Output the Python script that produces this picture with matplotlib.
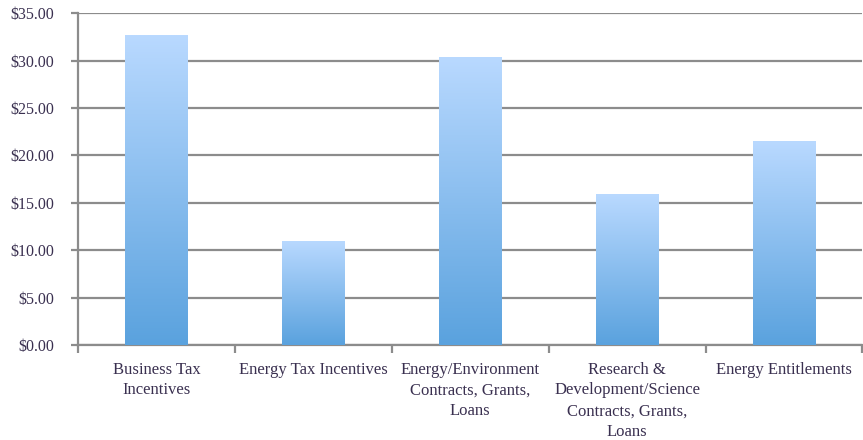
import matplotlib.pyplot as plt
import numpy as np
from matplotlib.colors import LinearSegmentedColormap
from matplotlib.ticker import FuncFormatter

categories = ['Business Tax\nIncentives', 'Energy Tax Incentives',
              'Energy/Environment\nContracts, Grants,\nLoans',
              'Research &\nDevelopment/Science\nContracts, Grants,\nLoans',
              'Energy Entitlements']
values = [32.7, 11.0, 30.4, 15.9, 21.5]
yticks = [0, 5, 10, 15, 20, 25, 30, 35]

plt.rcParams['font.family'] = ['Liberation Serif', 'DejaVu Serif']

fig = plt.figure(figsize=(8.63, 4.40), dpi=100)
ax = fig.add_axes([0.0904, 0.216, 0.909, 0.754])

x = np.arange(len(categories))
bars = ax.bar(x, values, width=0.4, color='none', zorder=3)

cmap = LinearSegmentedColormap.from_list('grad', ['#5aa2de', '#b9d9ff'])
grad = np.linspace(0, 1, 256).reshape(-1, 1)
for b in bars:
    im = ax.imshow(grad, cmap=cmap, origin='lower', aspect='auto',
                   extent=[b.get_x(), b.get_x() + b.get_width(), 0, b.get_height()],
                   zorder=3)
    im.set_clip_path(b)

ax.set_xlim(-0.5, len(categories) - 0.5)
ax.set_ylim(0, 35)
ax.set_yticks(yticks)
ax.yaxis.set_major_formatter(FuncFormatter(lambda v, p: '${:.2f}'.format(v)))
ax.grid(axis='y', color='#8c8c8c', linewidth=1.6, zorder=0)

ax.set_xticks(np.arange(len(categories) + 1) - 0.5, minor=False)
ax.set_xticklabels([])
ax.set_xticks(x, minor=True)
ax.set_xticklabels(categories, minor=True, fontsize=12, color='#3a3050', linespacing=1.4)
ax.tick_params(axis='x', which='major', length=6, width=1.6, color='#8c8c8c')
ax.tick_params(axis='x', which='minor', length=0, pad=12)
ax.tick_params(axis='y', length=5, width=1.6, color='#8c8c8c', labelsize=11.5,
               labelcolor='#3a3050', pad=12)

for s in ['top', 'right']:
    ax.spines[s].set_visible(False)
for s in ['left', 'bottom']:
    ax.spines[s].set_color('#8c8c8c')
    ax.spines[s].set_linewidth(1.6)

fig.savefig('out.png', dpi=100)
